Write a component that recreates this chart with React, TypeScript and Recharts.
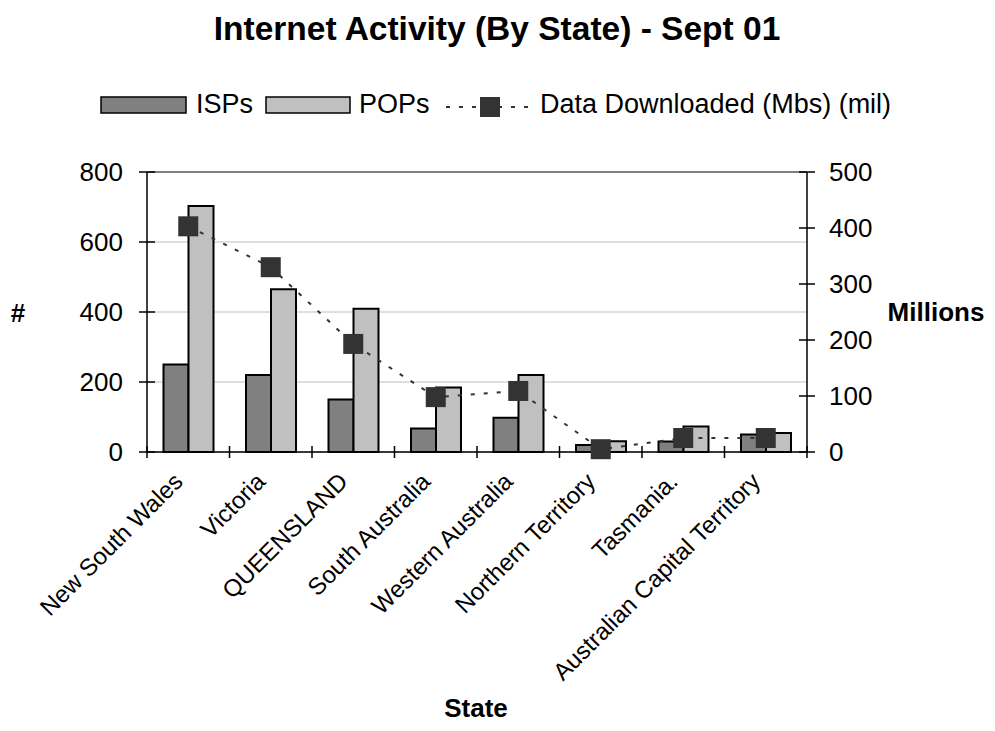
import { ComposedChart, Bar, Line, XAxis, YAxis, CartesianGrid, ReferenceLine } from "recharts";

const states = [
  "New South Wales",
  "Victoria",
  "QUEENSLAND",
  "South Australia",
  "Western Australia",
  "Northern Territory",
  "Tasmania.",
  "Australian Capital Territory",
];
const ispCounts = [250, 220, 150, 67, 98, 20, 30, 50];
const popCounts = [703, 465, 409, 184, 220, 31, 73, 54];
const downloadedMil = [403, 330, 193, 98, 109, 5, 25, 25];

const countTicks = [0, 200, 400, 600, 800];
const millionTicks = [0, 100, 200, 300, 400, 500];

const chartData = states.map((state, i) => ({
  state,
  isp: ispCounts[i],
  pop: popCounts[i],
  data: downloadedMil[i],
}));

const FONT = "'Liberation Sans', Arial, sans-serif";
const W = 995;
const H = 731;
const PLOT_LEFT = 147;
const PLOT_RIGHT = 807;
const PLOT_TOP = 172;
const PLOT_BOTTOM = 452;
const BAND = (PLOT_RIGHT - PLOT_LEFT) / states.length;
const MARKER = "#333333";

const LeftTick = ({ x, y, payload }: any) => (
  <g>
    <line x1={x - 8} x2={x + 8} y1={y} y2={y} stroke="#000" strokeWidth={1.5} />
    <text x={x - 24} y={y} dy="0.355em" textAnchor="end" fontSize={26} fontFamily={FONT} fill="#000">
      {payload.value}
    </text>
  </g>
);

const RightTick = ({ x, y, payload }: any) => (
  <g>
    <line x1={x - 8} x2={x + 8} y1={y} y2={y} stroke="#000" strokeWidth={1.5} />
    <text x={x + 22} y={y} dy="0.355em" textAnchor="start" fontSize={26} fontFamily={FONT} fill="#000">
      {payload.value}
    </text>
  </g>
);

// Excel-style category axis: tick marks sit on the band edges, labels slant up to the left
const CategoryTick = ({ x, y, payload, index }: any) => {
  const lx = x - 4;
  const ly = y + 31;
  return (
    <g>
      <line x1={x - BAND / 2} x2={x - BAND / 2} y1={y - 6} y2={y + 6} stroke="#000" strokeWidth={1.5} />
      {index === states.length - 1 && (
        <line x1={x + BAND / 2} x2={x + BAND / 2} y1={y - 6} y2={y + 6} stroke="#000" strokeWidth={1.5} />
      )}
      <text
        x={lx}
        y={ly}
        textAnchor="end"
        transform={`rotate(-45, ${lx}, ${ly})`}
        fontSize={24}
        fontFamily={FONT}
        fill="#000"
      >
        {payload.value}
      </text>
    </g>
  );
};

const SquareDot = ({ cx, cy }: any) => {
  if (cx == null || cy == null) return null;
  return <rect x={cx - 10} y={cy - 10} width={20} height={20} fill={MARKER} />;
};

const Overlay = () => (
  <svg
    width={W}
    height={H}
    style={{ position: "absolute", left: 0, top: 0, pointerEvents: "none" }}
    fontFamily={FONT}
  >
    <text x={497} y={40} textAnchor="middle" fontSize={33.5} fontWeight="bold" fill="#000">
      Internet Activity (By State) - Sept 01
    </text>

    {/* legend */}
    <rect x={101} y={97} width={85} height={16} fill="#808080" stroke="#000" strokeWidth={1.5} />
    <text x={196} y={113} fontSize={27} fill="#000">ISPs</text>
    <rect x={266} y={97} width={84} height={16} fill="#c0c0c0" stroke="#000" strokeWidth={1.5} />
    <text x={359} y={113} fontSize={27} fill="#000">POPs</text>
    <line x1={446} x2={535} y1={107} y2={107} stroke={MARKER} strokeWidth={2} strokeDasharray="4 9" />
    <rect x={480} y={97} width={20} height={20} fill={MARKER} />
    <text x={540} y={113} fontSize={27} fill="#000">Data Downloaded (Mbs) (mil)</text>

    <text x={18} y={322} textAnchor="middle" fontSize={26} fontWeight="bold" fill="#000">#</text>
    <text x={936} y={321} textAnchor="middle" fontSize={26} fontWeight="bold" fill="#000">Millions</text>
    <text x={476} y={717} textAnchor="middle" fontSize={26} fontWeight="bold" fill="#000">State</text>
  </svg>
);

export default function App() {
  return (
    <div style={{ position: "absolute", left: 0, top: 0, width: W, height: H, background: "#fff" }}>
      <ComposedChart
        width={W}
        height={H}
        data={chartData}
        margin={{ top: PLOT_TOP, right: 0, bottom: 0, left: 0 }}
        barCategoryGap="20%"
        barGap={0}
      >
        <CartesianGrid yAxisId="left" vertical={false} stroke="#c0c0c0" strokeWidth={1} />
        <XAxis
          dataKey="state"
          height={H - PLOT_BOTTOM}
          interval={0}
          tickSize={0}
          tickMargin={0}
          tickLine={false}
          axisLine={{ stroke: "#000", strokeWidth: 1.5 }}
          tick={<CategoryTick />}
        />
        <YAxis
          yAxisId="left"
          width={PLOT_LEFT}
          domain={[0, 800]}
          ticks={countTicks}
          tickSize={0}
          tickMargin={0}
          tickLine={false}
          axisLine={{ stroke: "#000", strokeWidth: 1.5 }}
          tick={<LeftTick />}
        />
        <YAxis
          yAxisId="right"
          orientation="right"
          width={W - PLOT_RIGHT}
          domain={[0, 500]}
          ticks={millionTicks}
          tickSize={0}
          tickMargin={0}
          tickLine={false}
          axisLine={{ stroke: "#000", strokeWidth: 1.5 }}
          tick={<RightTick />}
        />
        <ReferenceLine yAxisId="left" y={800} stroke="#808080" strokeWidth={2} />
        <Bar
          yAxisId="left"
          dataKey="isp"
          fill="#808080"
          stroke="#000"
          strokeWidth={2}
          isAnimationActive={false}
        />
        <Bar
          yAxisId="left"
          dataKey="pop"
          fill="#c0c0c0"
          stroke="#000"
          strokeWidth={2}
          isAnimationActive={false}
        />
        <Line
          yAxisId="right"
          type="linear"
          dataKey="data"
          stroke={MARKER}
          strokeWidth={2}
          strokeDasharray="4 9"
          dot={<SquareDot />}
          activeDot={false}
          isAnimationActive={false}
        />
      </ComposedChart>
      <Overlay />
    </div>
  );
}
